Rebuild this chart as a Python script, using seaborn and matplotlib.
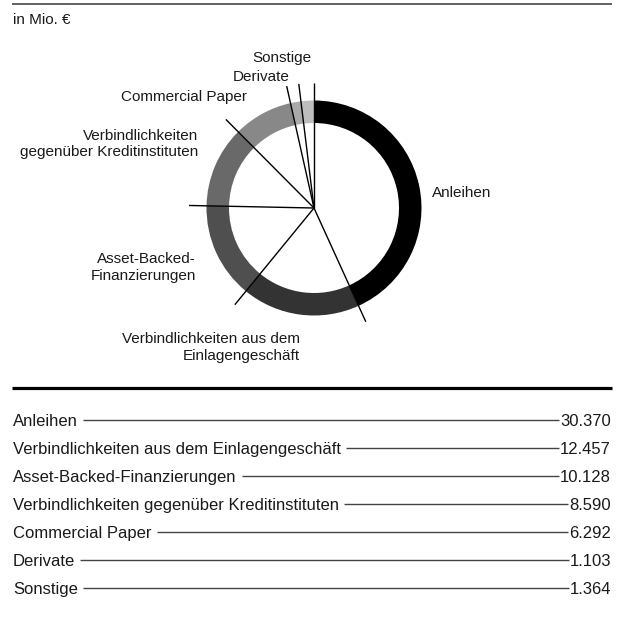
import numpy as np
import matplotlib
matplotlib.use("Agg")
import matplotlib.pyplot as plt
import seaborn as sns

# Refinanzierungsstruktur, in Mio. €
categories = [
    "Anleihen",
    "Verbindlichkeiten aus dem Einlagengeschäft",
    "Asset-Backed-Finanzierungen",
    "Verbindlichkeiten gegenüber Kreditinstituten",
    "Commercial Paper",
    "Derivate",
    "Sonstige",
]
values = [30370, 12457, 10128, 8590, 6292, 1103, 1364]
value_labels = ["30.370", "12.457", "10.128", "8.590", "6.292", "1.103", "1.364"]
donut_labels = [
    "Anleihen",
    "Verbindlichkeiten aus dem\nEinlagengeschäft",
    "Asset-Backed-\nFinanzierungen",
    "Verbindlichkeiten\ngegenüber Kreditinstituten",
    "Commercial Paper",
    "Derivate",
    "Sonstige",
]
unit_label = "in Mio. €"

sns.set_theme(style="white")
plt.rcParams["font.family"] = ["Liberation Sans", "DejaVu Sans"]

TEXT = "#1a1a1a"
W, H = 625, 618
fig = plt.figure(figsize=(W / 100, H / 100), dpi=100)
fig.patch.set_facecolor("white")

# overlay axes in pixel units (y downwards) for rules, labels and the table
ov = fig.add_axes([0, 0, 1, 1], zorder=3)
ov.set_xlim(0, W)
ov.set_ylim(H, 0)
ov.axis("off")
ov.patch.set_alpha(0)

# donut axes, square, centred on the ring centre
cx, cy, half = 314, 208, 150
ax = fig.add_axes([(cx - half) / W, (H - cy - half) / H, 2 * half / W, 2 * half / H])
ring_colors = ["#000000", "#333333", "#4f4f4f", "#696969", "#888888", "#aaaaaa", "#bdbdbd"]
ax.pie(values, colors=ring_colors, startangle=90, counterclock=False,
       radius=107.5, wedgeprops=dict(width=22.5, linewidth=0))
ax.set_xlim(-half, half)
ax.set_ylim(-half, half)
ax.set_aspect("equal")
ax.axis("off")

# radial leader lines at the end of each segment
total = sum(values)
cum = 0
for v in values:
    cum += v
    ang = np.deg2rad(90 - 360 * cum / total)
    ax.plot([0, 125 * np.cos(ang)], [0, 125 * np.sin(ang)], color="black", lw=1.0,
            solid_capstyle="butt")

# ring labels
label_pos = [(432, 193, "left"), (300, 347.5, "right"), (196, 267.5, "right"),
             (198, 144, "right"), (247, 97, "right"), (290, 77, "right"), (311, 58, "right")]
for txt, (x, y, ha) in zip(donut_labels, label_pos):
    ov.text(x, y, txt, ha=ha, va="center", fontsize=11, color=TEXT,
            linespacing=1.25, multialignment=ha)

# rules and unit
ov.plot([12, 612], [4, 4], color="#555555", lw=1.3, solid_capstyle="butt")
ov.text(13, 20, unit_label, ha="left", va="center", fontsize=11, color=TEXT)
ov.plot([12, 612], [388, 388], color="black", lw=2.3, solid_capstyle="butt")

# value table with leader lines
row_texts = []
for i, (cat, val) in enumerate(zip(categories, value_labels)):
    yb = 426 + 28 * i
    t1 = ov.text(13, yb, cat, ha="left", va="baseline", fontsize=12, color=TEXT)
    t2 = ov.text(611, yb, val, ha="right", va="baseline", fontsize=12, color=TEXT)
    row_texts.append((t1, t2, yb))

fig.canvas.draw()
inv = ov.transData.inverted()
r = fig.canvas.get_renderer()
for t1, t2, yb in row_texts:
    x0 = inv.transform(t1.get_window_extent(r).p1)[0] + 5
    x1 = inv.transform(t2.get_window_extent(r).p0)[0] - 1
    ov.plot([x0, x1], [yb - 6, yb - 6], color="#444444", lw=1.0, solid_capstyle="butt")

fig.savefig("out.png", dpi=100, facecolor="white")
